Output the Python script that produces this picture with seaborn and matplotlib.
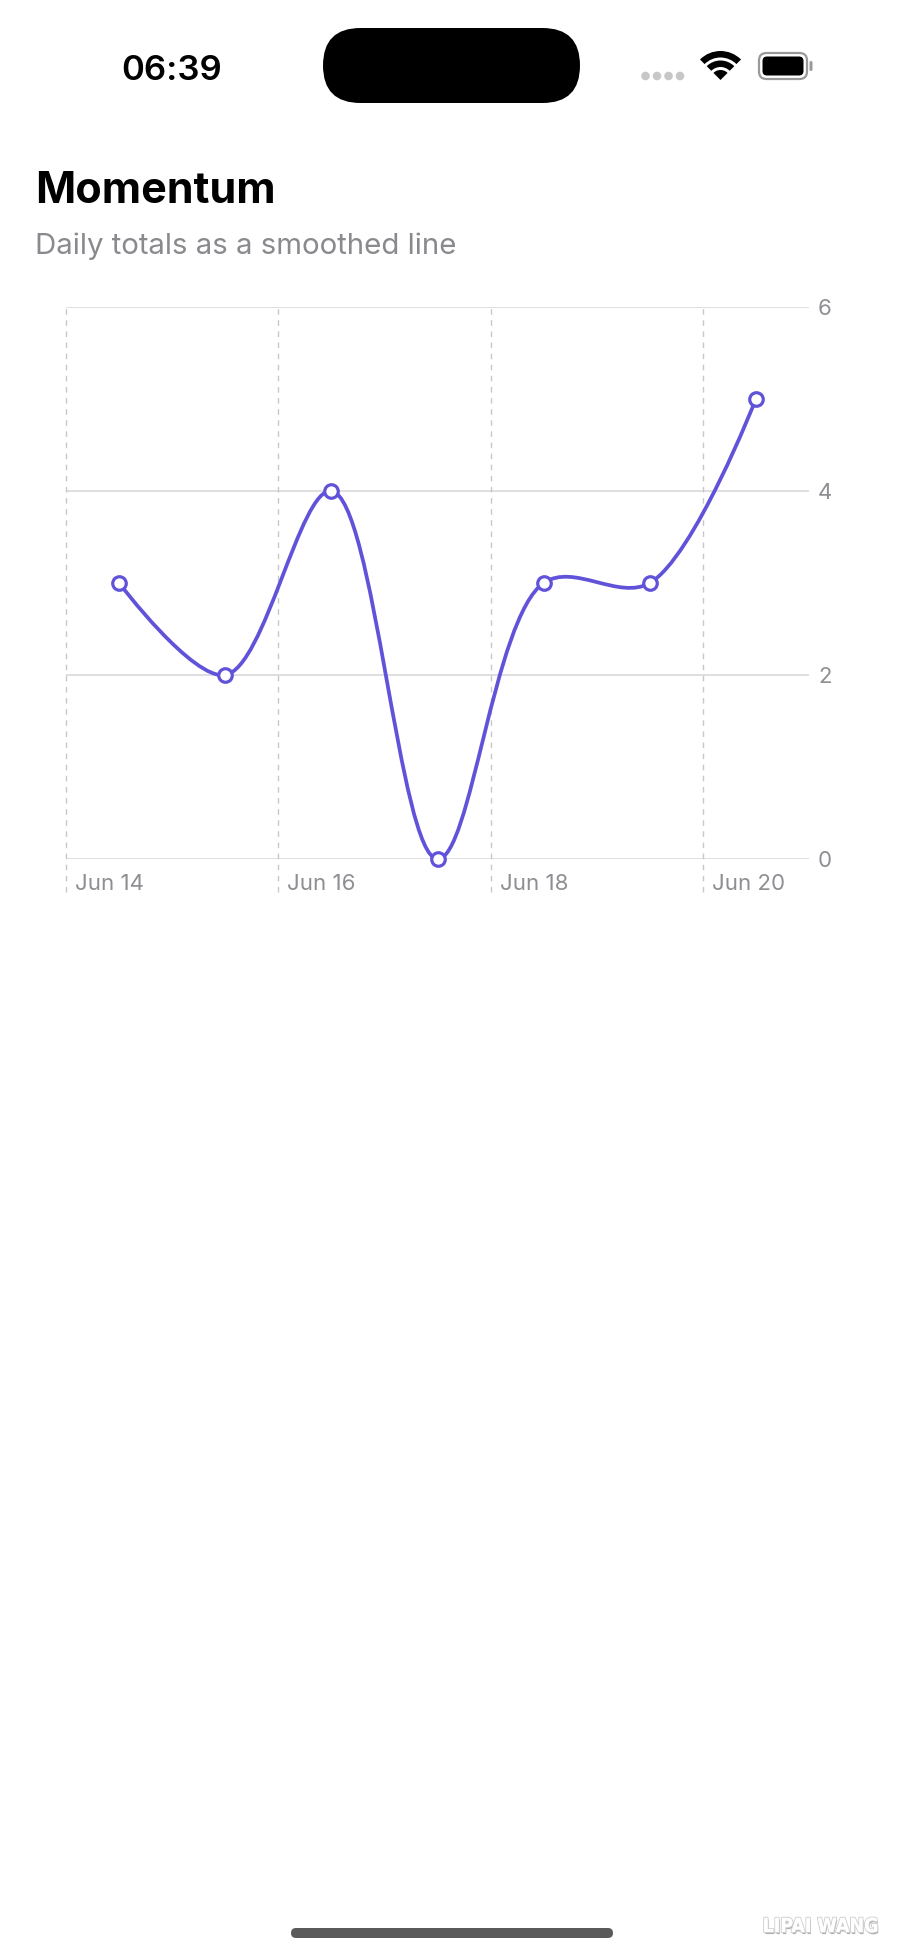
import numpy as np
import pandas as pd
import matplotlib
matplotlib.use('Agg')
import matplotlib.pyplot as plt
import matplotlib.dates as mdates
import matplotlib.patheffects as pe
from matplotlib.path import Path
from matplotlib.patches import PathPatch, FancyBboxPatch, Circle, Wedge
from matplotlib.transforms import ScaledTranslation
import seaborn as sns

# data
days = pd.date_range('2025-06-14 12:00', periods=7, freq='D')
totals = [3, 2, 4, 0, 3, 3, 5]
tick_days = pd.to_datetime(['2025-06-14', '2025-06-16', '2025-06-18', '2025-06-20'])
y_ticks = [0, 2, 4, 6]

title = 'Momentum'
subtitle = 'Daily totals as a smoothed line'
clock = '06:39'

LINE = '#6153D9'
GRID = '#d9d9dc'
VGRID = '#c7c7cc'
LABEL = '#8e8e93'

sns.set_theme(style='white')
plt.rcParams['font.family'] = ['Inter', 'DejaVu Sans']

W, H = 900, 1955
fig = plt.figure(figsize=(W / 100, H / 100), dpi=100)
fig.patch.set_facecolor('white')

# background layer in pixel coords (status bar, titles)
bg = fig.add_axes([0, 0, 1, 1])
bg.set_xlim(0, W)
bg.set_ylim(H, 0)
bg.axis('off')

bg.text(172, 80, clock, ha='center', va='baseline', fontsize=25,
        fontweight='semibold', color='black')
bg.add_patch(FancyBboxPatch((323, 28), 257, 75,
                            boxstyle='round,pad=0,rounding_size=37.5',
                            fc='black', ec='none'))
for cx in [645.5, 657, 668.5, 680]:
    bg.add_patch(Circle((cx, 76), 4.3, fc='#c7c7c7', ec='none'))
# wifi
for r, w in [(29, 6.5), (19.5, 6.5)]:
    bg.add_patch(Wedge((720.5, 80), r, 225, 315, width=w, fc='black', ec='none'))
bg.add_patch(Wedge((720.5, 80), 10, 225, 315, fc='black', ec='none'))
# battery
bg.add_patch(FancyBboxPatch((759, 53), 48, 26, boxstyle='round,pad=0,rounding_size=7.5',
                            fc='none', ec='#9a9a9a', lw=1.6))
bg.add_patch(FancyBboxPatch((762.5, 56.5), 41, 19, boxstyle='round,pad=0,rounding_size=4.5',
                            fc='black', ec='none'))
bg.add_patch(FancyBboxPatch((809.5, 61), 3, 10, boxstyle='round,pad=0,rounding_size=1.5',
                            fc='#9a9a9a', ec='none'))

bg.text(35, 203, title, ha='left', va='baseline', fontsize=31,
        fontweight='bold', color='black')
bg.text(35, 254, subtitle, ha='left', va='baseline', fontsize=21.2, color='#8a8a8e')

# home indicator + watermark
bg.add_patch(FancyBboxPatch((291, 1928), 322, 10, boxstyle='round,pad=0,rounding_size=5',
                            fc='#5a5a5a', ec='none'))
bg.text(879, 1932, 'LIPAI WANG', ha='right', va='baseline', fontsize=14,
        fontweight='bold', fontstretch='condensed', color='white',
        family=['Liberation Sans Narrow', 'DejaVu Sans'],
        path_effects=[pe.withSimplePatchShadow(offset=(0.8, -1.5), shadow_rgbFace='#a8a8a8', alpha=0.9),
                      pe.withStroke(linewidth=1.5, foreground='#d0d0d0'),
                      pe.Normal()])

# chart
left, right, top, bottom = 66, 809, 307, 859
ax = fig.add_axes([left / W, 1 - bottom / H, (right - left) / W, (bottom - top) / H])
ax.set_facecolor('none')

x0 = mdates.date2num(pd.Timestamp('2025-06-14'))
x1 = mdates.date2num(pd.Timestamp('2025-06-21'))
ax.set_xlim(x0, x1)
ax.set_ylim(0, 6)

# centripetal catmull-rom (alpha=0.5) in screen space, drawn as bezier path
xs = mdates.date2num(days)
ys = np.array(totals, dtype=float)
sx = (right - left) / (x1 - x0)
sy = (bottom - top) / 6.0
P = np.column_stack([(xs - x0) * sx, ys * sy])
P = np.vstack([P[0], P, P[-1]])
verts = [P[1]]
codes = [Path.MOVETO]
for i in range(1, len(P) - 2):
    p0, p1, p2, p3 = P[i - 1], P[i], P[i + 1], P[i + 2]
    l01 = np.linalg.norm(p1 - p0) ** 0.5
    l12 = np.linalg.norm(p2 - p1) ** 0.5
    l23 = np.linalg.norm(p3 - p2) ** 0.5
    c1 = p1.copy()
    c2 = p2.copy()
    if l01 > 1e-9:
        a = 2 * l01 ** 2 + 3 * l01 * l12 + l12 ** 2
        n = 3 * l01 * (l01 + l12)
        c1 = (p1 * a - p0 * l12 ** 2 + p2 * l01 ** 2) / n
    if l23 > 1e-9:
        b = 2 * l23 ** 2 + 3 * l23 * l12 + l12 ** 2
        m = 3 * l23 * (l23 + l12)
        c2 = (p2 * b + p1 * l23 ** 2 - p3 * l12 ** 2) / m
    verts += [c1, c2, p2]
    codes += [Path.CURVE4] * 3
verts = np.array(verts)
verts = np.column_stack([verts[:, 0] / sx + x0, verts[:, 1] / sy])
ax.add_patch(PathPatch(Path(verts, codes), fc='none', ec=LINE, lw=2.7,
                       capstyle='round', joinstyle='round', zorder=3, clip_on=False))

sns.scatterplot(x=days, y=totals, ax=ax, s=95, color='white', edgecolor=LINE,
                linewidth=2.3, zorder=4, clip_on=False)

# grid
ax.set_yticks(y_ticks)
ax.grid(axis='y', color=GRID, lw=1.2)
ax.grid(axis='x', visible=False)
ax.vlines(mdates.date2num(tick_days), -0.06, 1, transform=ax.get_xaxis_transform(),
          colors=VGRID, linestyles=(0, (4, 4)), lw=1, clip_on=False, zorder=1)

ax.yaxis.tick_right()
ax.tick_params(axis='y', length=0, pad=6.5, labelsize=16, labelcolor=LABEL)
ax.set_xticks(mdates.date2num(tick_days))
ax.xaxis.set_major_formatter(mdates.DateFormatter('%b %d'))
ax.tick_params(axis='x', length=0, pad=10.5, labelsize=16, labelcolor=LABEL)
offset = ScaledTranslation(9 / 100, 0, fig.dpi_scale_trans)
for lab in ax.get_xticklabels():
    lab.set_ha('left')
    lab.set_transform(lab.get_transform() + offset)
for s in ax.spines.values():
    s.set_visible(False)
ax.set_xlabel('')
ax.set_ylabel('')
if ax.get_legend():
    ax.get_legend().remove()

fig.savefig('out.png', dpi=100, facecolor='white')
